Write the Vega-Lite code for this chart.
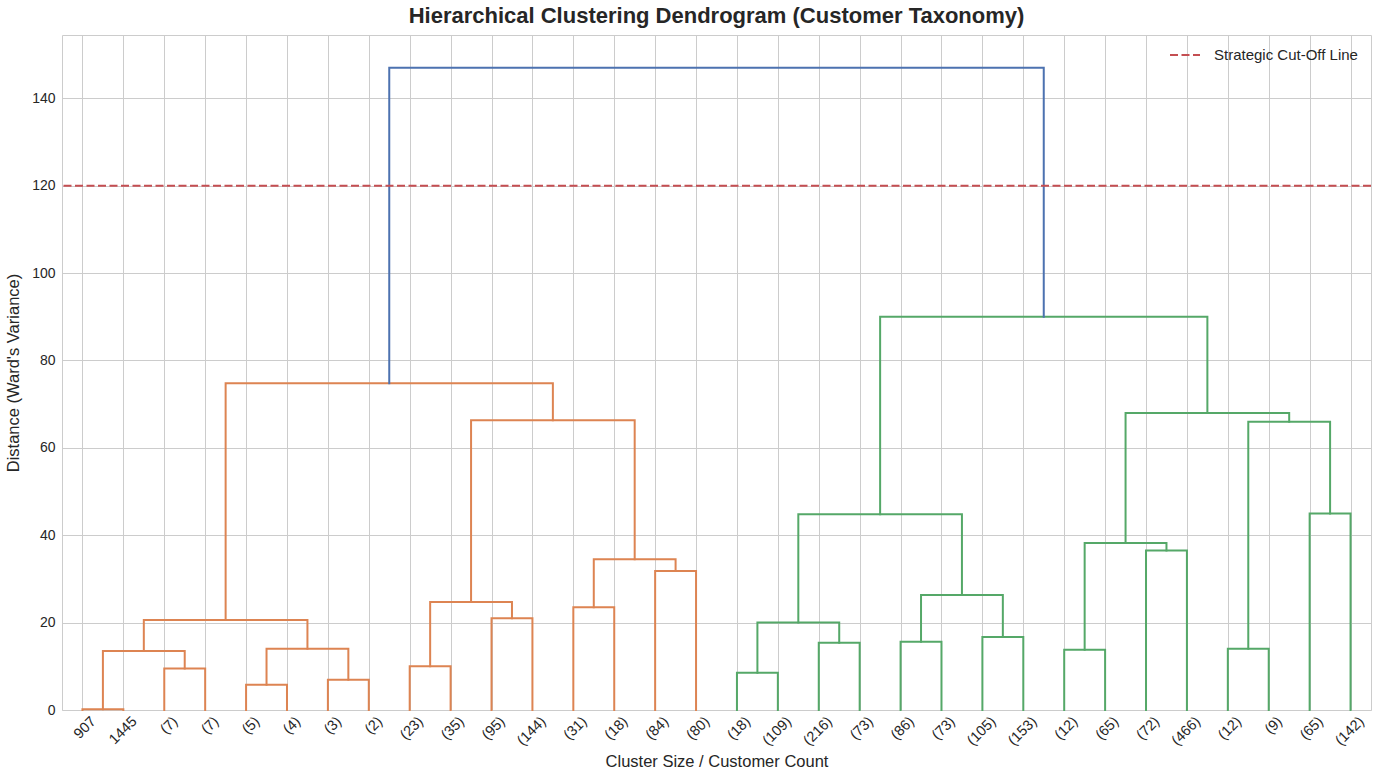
{
  "$schema": "https://vega.github.io/schema/vega-lite/v6.json",
  "description": "Hierarchical clustering dendrogram of customer segments",
  "autosize": "none",
  "width": 1309,
  "height": 675,
  "padding": {"left": 62, "top": 35, "right": 10, "bottom": 74},
  "background": "white",
  "title": {
    "text": "Hierarchical Clustering Dendrogram (Customer Taxonomy)",
    "fontSize": 22,
    "fontWeight": "bold",
    "color": "#262626",
    "offset": 7
  },
  "config": {
    "font": "Liberation Sans",
    "view": {"stroke": "#cccccc", "strokeWidth": 1},
    "axis": {
      "gridColor": "#cccccc",
      "gridWidth": 1,
      "domain": false,
      "ticks": false,
      "labelColor": "#262626",
      "labelFontSize": 14.5,
      "titleColor": "#262626",
      "titleFontSize": 16.5,
      "titleFontWeight": "normal"
    }
  },
  "data": {
    "values": [
      {"l": "a1", "o": 1, "x": 5, "y": 0, "c": "A"},
      {"l": "a1", "o": 2, "x": 5, "y": 0.2, "c": "A"},
      {"l": "a1", "o": 3, "x": 15, "y": 0.2, "c": "A"},
      {"l": "a1", "o": 4, "x": 15, "y": 0, "c": "A"},
      {"l": "a2", "o": 1, "x": 25, "y": 0, "c": "A"},
      {"l": "a2", "o": 2, "x": 25, "y": 9.5, "c": "A"},
      {"l": "a2", "o": 3, "x": 35, "y": 9.5, "c": "A"},
      {"l": "a2", "o": 4, "x": 35, "y": 0, "c": "A"},
      {"l": "a3", "o": 1, "x": 10, "y": 0.2, "c": "A"},
      {"l": "a3", "o": 2, "x": 10, "y": 13.5, "c": "A"},
      {"l": "a3", "o": 3, "x": 30, "y": 13.5, "c": "A"},
      {"l": "a3", "o": 4, "x": 30, "y": 9.5, "c": "A"},
      {"l": "a4", "o": 1, "x": 45, "y": 0, "c": "A"},
      {"l": "a4", "o": 2, "x": 45, "y": 5.8, "c": "A"},
      {"l": "a4", "o": 3, "x": 55, "y": 5.8, "c": "A"},
      {"l": "a4", "o": 4, "x": 55, "y": 0, "c": "A"},
      {"l": "a5", "o": 1, "x": 65, "y": 0, "c": "A"},
      {"l": "a5", "o": 2, "x": 65, "y": 6.9, "c": "A"},
      {"l": "a5", "o": 3, "x": 75, "y": 6.9, "c": "A"},
      {"l": "a5", "o": 4, "x": 75, "y": 0, "c": "A"},
      {"l": "a6", "o": 1, "x": 50, "y": 5.8, "c": "A"},
      {"l": "a6", "o": 2, "x": 50, "y": 14, "c": "A"},
      {"l": "a6", "o": 3, "x": 70, "y": 14, "c": "A"},
      {"l": "a6", "o": 4, "x": 70, "y": 6.9, "c": "A"},
      {"l": "a7", "o": 1, "x": 20, "y": 13.5, "c": "A"},
      {"l": "a7", "o": 2, "x": 20, "y": 20.6, "c": "A"},
      {"l": "a7", "o": 3, "x": 60, "y": 20.6, "c": "A"},
      {"l": "a7", "o": 4, "x": 60, "y": 14, "c": "A"},
      {"l": "a8", "o": 1, "x": 85, "y": 0, "c": "A"},
      {"l": "a8", "o": 2, "x": 85, "y": 10, "c": "A"},
      {"l": "a8", "o": 3, "x": 95, "y": 10, "c": "A"},
      {"l": "a8", "o": 4, "x": 95, "y": 0, "c": "A"},
      {"l": "a9", "o": 1, "x": 105, "y": 0, "c": "A"},
      {"l": "a9", "o": 2, "x": 105, "y": 21, "c": "A"},
      {"l": "a9", "o": 3, "x": 115, "y": 21, "c": "A"},
      {"l": "a9", "o": 4, "x": 115, "y": 0, "c": "A"},
      {"l": "a10", "o": 1, "x": 90, "y": 10, "c": "A"},
      {"l": "a10", "o": 2, "x": 90, "y": 24.7, "c": "A"},
      {"l": "a10", "o": 3, "x": 110, "y": 24.7, "c": "A"},
      {"l": "a10", "o": 4, "x": 110, "y": 21, "c": "A"},
      {"l": "a11", "o": 1, "x": 125, "y": 0, "c": "A"},
      {"l": "a11", "o": 2, "x": 125, "y": 23.5, "c": "A"},
      {"l": "a11", "o": 3, "x": 135, "y": 23.5, "c": "A"},
      {"l": "a11", "o": 4, "x": 135, "y": 0, "c": "A"},
      {"l": "a12", "o": 1, "x": 145, "y": 0, "c": "A"},
      {"l": "a12", "o": 2, "x": 145, "y": 31.8, "c": "A"},
      {"l": "a12", "o": 3, "x": 155, "y": 31.8, "c": "A"},
      {"l": "a12", "o": 4, "x": 155, "y": 0, "c": "A"},
      {"l": "a13", "o": 1, "x": 130, "y": 23.5, "c": "A"},
      {"l": "a13", "o": 2, "x": 130, "y": 34.5, "c": "A"},
      {"l": "a13", "o": 3, "x": 150, "y": 34.5, "c": "A"},
      {"l": "a13", "o": 4, "x": 150, "y": 31.8, "c": "A"},
      {"l": "a14", "o": 1, "x": 100, "y": 24.7, "c": "A"},
      {"l": "a14", "o": 2, "x": 100, "y": 66.3, "c": "A"},
      {"l": "a14", "o": 3, "x": 140, "y": 66.3, "c": "A"},
      {"l": "a14", "o": 4, "x": 140, "y": 34.5, "c": "A"},
      {"l": "a15", "o": 1, "x": 40, "y": 20.6, "c": "A"},
      {"l": "a15", "o": 2, "x": 40, "y": 74.8, "c": "A"},
      {"l": "a15", "o": 3, "x": 120, "y": 74.8, "c": "A"},
      {"l": "a15", "o": 4, "x": 120, "y": 66.3, "c": "A"},
      {"l": "b1", "o": 1, "x": 165, "y": 0, "c": "B"},
      {"l": "b1", "o": 2, "x": 165, "y": 8.5, "c": "B"},
      {"l": "b1", "o": 3, "x": 175, "y": 8.5, "c": "B"},
      {"l": "b1", "o": 4, "x": 175, "y": 0, "c": "B"},
      {"l": "b2", "o": 1, "x": 185, "y": 0, "c": "B"},
      {"l": "b2", "o": 2, "x": 185, "y": 15.4, "c": "B"},
      {"l": "b2", "o": 3, "x": 195, "y": 15.4, "c": "B"},
      {"l": "b2", "o": 4, "x": 195, "y": 0, "c": "B"},
      {"l": "b3", "o": 1, "x": 170, "y": 8.5, "c": "B"},
      {"l": "b3", "o": 2, "x": 170, "y": 20, "c": "B"},
      {"l": "b3", "o": 3, "x": 190, "y": 20, "c": "B"},
      {"l": "b3", "o": 4, "x": 190, "y": 15.4, "c": "B"},
      {"l": "b4", "o": 1, "x": 205, "y": 0, "c": "B"},
      {"l": "b4", "o": 2, "x": 205, "y": 15.6, "c": "B"},
      {"l": "b4", "o": 3, "x": 215, "y": 15.6, "c": "B"},
      {"l": "b4", "o": 4, "x": 215, "y": 0, "c": "B"},
      {"l": "b5", "o": 1, "x": 225, "y": 0, "c": "B"},
      {"l": "b5", "o": 2, "x": 225, "y": 16.7, "c": "B"},
      {"l": "b5", "o": 3, "x": 235, "y": 16.7, "c": "B"},
      {"l": "b5", "o": 4, "x": 235, "y": 0, "c": "B"},
      {"l": "b6", "o": 1, "x": 210, "y": 15.6, "c": "B"},
      {"l": "b6", "o": 2, "x": 210, "y": 26.3, "c": "B"},
      {"l": "b6", "o": 3, "x": 230, "y": 26.3, "c": "B"},
      {"l": "b6", "o": 4, "x": 230, "y": 16.7, "c": "B"},
      {"l": "b7", "o": 1, "x": 180, "y": 20, "c": "B"},
      {"l": "b7", "o": 2, "x": 180, "y": 44.8, "c": "B"},
      {"l": "b7", "o": 3, "x": 220, "y": 44.8, "c": "B"},
      {"l": "b7", "o": 4, "x": 220, "y": 26.3, "c": "B"},
      {"l": "b8", "o": 1, "x": 245, "y": 0, "c": "B"},
      {"l": "b8", "o": 2, "x": 245, "y": 13.8, "c": "B"},
      {"l": "b8", "o": 3, "x": 255, "y": 13.8, "c": "B"},
      {"l": "b8", "o": 4, "x": 255, "y": 0, "c": "B"},
      {"l": "b9", "o": 1, "x": 265, "y": 0, "c": "B"},
      {"l": "b9", "o": 2, "x": 265, "y": 36.5, "c": "B"},
      {"l": "b9", "o": 3, "x": 275, "y": 36.5, "c": "B"},
      {"l": "b9", "o": 4, "x": 275, "y": 0, "c": "B"},
      {"l": "b10", "o": 1, "x": 250, "y": 13.8, "c": "B"},
      {"l": "b10", "o": 2, "x": 250, "y": 38.2, "c": "B"},
      {"l": "b10", "o": 3, "x": 270, "y": 38.2, "c": "B"},
      {"l": "b10", "o": 4, "x": 270, "y": 36.5, "c": "B"},
      {"l": "b11", "o": 1, "x": 285, "y": 0, "c": "B"},
      {"l": "b11", "o": 2, "x": 285, "y": 14, "c": "B"},
      {"l": "b11", "o": 3, "x": 295, "y": 14, "c": "B"},
      {"l": "b11", "o": 4, "x": 295, "y": 0, "c": "B"},
      {"l": "b12", "o": 1, "x": 305, "y": 0, "c": "B"},
      {"l": "b12", "o": 2, "x": 305, "y": 45, "c": "B"},
      {"l": "b12", "o": 3, "x": 315, "y": 45, "c": "B"},
      {"l": "b12", "o": 4, "x": 315, "y": 0, "c": "B"},
      {"l": "b13", "o": 1, "x": 290, "y": 14, "c": "B"},
      {"l": "b13", "o": 2, "x": 290, "y": 66, "c": "B"},
      {"l": "b13", "o": 3, "x": 310, "y": 66, "c": "B"},
      {"l": "b13", "o": 4, "x": 310, "y": 45, "c": "B"},
      {"l": "b14", "o": 1, "x": 260, "y": 38.2, "c": "B"},
      {"l": "b14", "o": 2, "x": 260, "y": 68, "c": "B"},
      {"l": "b14", "o": 3, "x": 300, "y": 68, "c": "B"},
      {"l": "b14", "o": 4, "x": 300, "y": 66, "c": "B"},
      {"l": "b15", "o": 1, "x": 200, "y": 44.8, "c": "B"},
      {"l": "b15", "o": 2, "x": 200, "y": 90, "c": "B"},
      {"l": "b15", "o": 3, "x": 280, "y": 90, "c": "B"},
      {"l": "b15", "o": 4, "x": 280, "y": 68, "c": "B"},
      {"l": "root", "o": 1, "x": 80, "y": 74.8, "c": "R"},
      {"l": "root", "o": 2, "x": 80, "y": 147, "c": "R"},
      {"l": "root", "o": 3, "x": 240, "y": 147, "c": "R"},
      {"l": "root", "o": 4, "x": 240, "y": 90, "c": "R"}
    ]
  },
  "layer": [
    {
      "mark": {"type": "line", "strokeWidth": 2, "strokeJoin": "miter", "strokeCap": "square"},
      "encoding": {
        "x": {
          "field": "x",
          "type": "quantitative",
          "scale": {"domain": [0, 320], "nice": false, "zero": false},
          "axis": {
            "title": "Cluster Size / Customer Count",
            "values": [5, 15, 25, 35, 45, 55, 65, 75, 85, 95, 105, 115, 125, 135, 145, 155, 165, 175, 185, 195, 205, 215, 225, 235, 245, 255, 265, 275, 285, 295, 305, 315],
            "labelExpr": "['907','1445','(7)','(7)','(5)','(4)','(3)','(2)','(23)','(35)','(95)','(144)','(31)','(18)','(84)','(80)','(18)','(109)','(216)','(73)','(86)','(73)','(105)','(153)','(12)','(65)','(72)','(466)','(12)','(9)','(65)','(142)'][(datum.value - 5) / 10]",
            "labelAngle": -45,
            "labelAlign": "right",
            "labelBaseline": "top",
            "labelPadding": 4,
            "labelOffset": 6,
            "labelOverlap": false,
            "titlePadding": 6
          }
        },
        "y": {
          "field": "y",
          "type": "quantitative",
          "scale": {"domain": [0, 154.5], "nice": false},
          "axis": {
            "title": "Distance (Ward's Variance)",
            "values": [0, 20, 40, 60, 80, 100, 120, 140],
            "labelFontSize": 14,
            "labelPadding": 7,
            "titlePadding": 10
          }
        },
        "detail": {"field": "l", "type": "nominal"},
        "order": {"field": "o", "type": "quantitative"},
        "color": {
          "field": "c",
          "type": "nominal",
          "scale": {"domain": ["A", "B", "R"], "range": ["#dd8452", "#55a868", "#4c72b0"]},
          "legend": null
        }
      }
    },
    {
      "data": {"values": [{"cut": 120, "name": "Strategic Cut-Off Line"}]},
      "mark": {"type": "rule", "strokeWidth": 2, "strokeDash": [8, 3.5]},
      "encoding": {
        "y": {"field": "cut", "type": "quantitative"},
        "stroke": {
          "field": "name",
          "type": "nominal",
          "scale": {"range": ["#c44e52"]},
          "legend": {
            "title": null,
            "orient": "none",
            "legendX": 1107,
            "legendY": 4,
            "symbolType": "stroke",
            "symbolStrokeWidth": 2,
            "symbolDash": [8, 3.5],
            "symbolSize": 900,
            "labelFontSize": 15,
            "labelColor": "#262626",
            "labelOffset": 13
          }
        }
      }
    }
  ],
  "resolve": {"scale": {"color": "independent", "stroke": "independent"}}
}
